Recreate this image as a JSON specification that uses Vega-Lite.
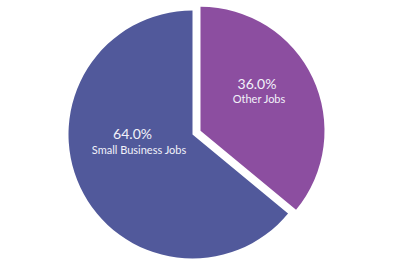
{
  "$schema": "https://vega.github.io/schema/vega-lite/v6.json",
  "width": 400,
  "height": 267,
  "autosize": {"type": "fit", "contains": "padding"},
  "padding": {"left": 0, "top": 2, "right": 15, "bottom": 0},
  "background": "white",
  "config": {"view": {"stroke": null}},
  "data": {
    "values": [
      {"job": "Other Jobs", "value": 36, "pct": "36.0%"},
      {"job": "Small Business Jobs", "value": 64, "pct": "64.0%"}
    ]
  },
  "encoding": {
    "theta": {"field": "value", "type": "quantitative", "stack": true},
    "order": {"field": "job", "sort": "ascending"}
  },
  "layer": [
    {
      "mark": {"type": "arc", "radius": 124},
      "encoding": {
        "color": {"field": "job", "type": "nominal", "legend": null,
          "scale": {"domain": ["Other Jobs", "Small Business Jobs"], "range": ["#8C4EA0", "#51599B"]}},
        "opacity": {"condition": {"test": "datum.job === 'Other Jobs'", "value": 0}, "value": 1}
      }
    },
    {
      "mark": {"type": "arc", "radius": 124, "xOffset": 8, "yOffset": -3.7},
      "encoding": {
        "color": {"field": "job", "type": "nominal", "legend": null},
        "opacity": {"condition": {"test": "datum.job === 'Other Jobs'", "value": 1}, "value": 0}
      }
    },
    {
      "mark": {"type": "text", "radius": 58, "font": "Lato", "fontSize": 14, "color": "#F2F2FA", "dx": -7.5, "dy": -24.2},
      "encoding": {"text": {"field": "pct", "condition": {"test": "datum.job !== 'Small Business Jobs'", "value": ""}}}
    },
    {
      "mark": {"type": "text", "radius": 58, "font": "Lato", "fontSize": 11, "color": "#F2F2FA", "dx": -1, "dy": -8.2},
      "encoding": {"text": {"field": "job", "condition": {"test": "datum.job !== 'Small Business Jobs'", "value": ""}}}
    },
    {
      "mark": {"type": "text", "radius": 65, "font": "Lato", "fontSize": 14, "color": "#F2F2FA", "dx": 5.7, "dy": -21.5},
      "encoding": {"text": {"field": "pct", "condition": {"test": "datum.job !== 'Other Jobs'", "value": ""}}}
    },
    {
      "mark": {"type": "text", "radius": 65, "font": "Lato", "fontSize": 11, "color": "#F2F2FA", "dx": 7.7, "dy": -7.3},
      "encoding": {"text": {"field": "job", "condition": {"test": "datum.job !== 'Other Jobs'", "value": ""}}}
    }
  ]
}
